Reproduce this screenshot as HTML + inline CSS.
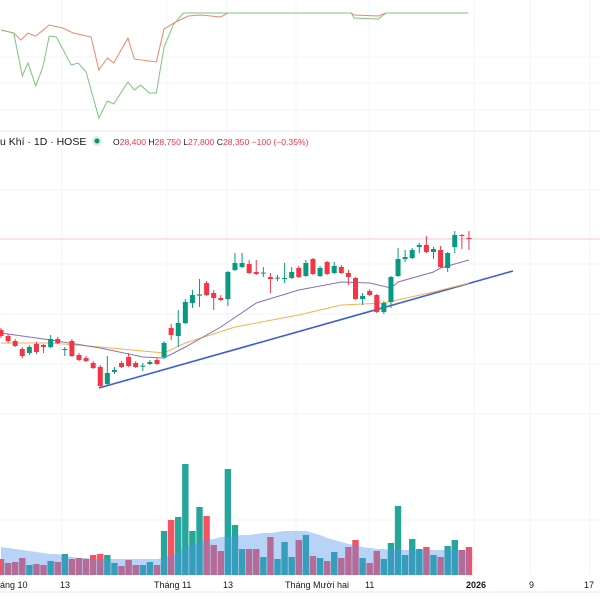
<!DOCTYPE html>
<html><head><meta charset="utf-8"><style>
html,body{margin:0;padding:0;background:#fff;width:600px;height:600px;overflow:hidden}
svg{display:block;font-family:"Liberation Sans",sans-serif}
</style></head><body>
<svg id="c" width="600" height="600" viewBox="0 0 600 600">
<g id="grid"></g>
<line x1="0" y1="131" x2="600" y2="131" stroke="#e8eaef" stroke-width="1"/>
<g id="osc"></g>
<g id="vol"></g>
<g id="price"></g>
<g>
<text x="0" y="145" font-size="10.5" fill="#131722">u Khí · 1D · HOSE</text>
<circle cx="97" cy="141" r="5" fill="#d8f0ea"/>
<circle cx="97" cy="141" r="2.5" fill="#138a72"/>
<text x="113" y="145" font-size="8.6" fill="#131722">O<tspan fill="#f23645">28,400</tspan> H<tspan fill="#f23645">28,750</tspan> L<tspan fill="#f23645">27,800</tspan> C<tspan fill="#f23645">28,350</tspan> <tspan fill="#f23645">−100 (−0.35%)</tspan></text>
</g>
<line x1="0" y1="592" x2="600" y2="592" stroke="#e8eaef"/>
<g font-size="9" fill="#131722">
<text x="0" y="588">áng 10</text>
<text x="60" y="588">13</text>
<text x="154" y="588">Tháng 11</text>
<text x="223" y="588">13</text>
<text x="285" y="588">Tháng Mười hai</text>
<text x="365" y="588">11</text>
<text x="466" y="588" font-weight="bold">2026</text>
<text x="529" y="588">9</text>
<text x="584" y="588">17</text>
</g>
</svg>
<script>
const opens=[23800,23500,23250,22850,22650,23100,23050,22950,23350,22800,23250,22550,22400,22150,21950,21100,21700,22150,22450,22150,21980,22100,22300,22450,23900,23500,24150,25150,25520,26150,25650,25400,25350,26800,26950,27100,26700,26630,26450,26380,26350,26400,26900,26500,27350,26500,27200,26650,26950,26650,26400,25350,25750,25550,24700,25200,26500,27350,27400,27950,28050,27700,27800,26900,27950,28550,28400];
const highs=[23900,23600,23350,22950,23050,23200,23100,23550,23450,22950,23350,22650,22500,22250,22050,22500,21950,22250,22650,22250,22150,22300,22400,23250,24100,24800,25350,25800,26350,26250,25800,25550,26750,27650,27650,27300,27300,26950,26650,26550,27150,26950,27000,27300,27400,27000,27250,27200,27050,26800,26450,25650,25850,25600,25250,26500,27900,27800,27900,28150,28500,27950,28000,27700,28750,28600,28750];
const lows=[23400,23150,22950,22400,22550,22600,22650,22900,23100,22500,22450,22250,22200,21850,20950,21050,21600,21900,21950,21900,21750,22050,22050,22350,23300,22950,24100,24900,24950,25500,24800,25250,25000,26750,26900,26600,26550,26450,25650,26250,26150,26350,26400,26450,26550,26450,26550,26600,26600,26050,25300,25050,25500,24650,24600,24900,26450,27200,27350,27650,27650,27350,26900,26700,27650,27850,27800];
const closes=[23500,23250,23000,22500,22950,22700,22950,23350,23150,22850,22500,22300,22250,21900,21000,21650,21800,21950,22000,21950,22020,22200,22100,23150,23550,24150,25200,25550,25580,25550,25400,25300,26700,27150,27150,26650,26600,26670,26350,26420,26400,26700,26450,27150,26600,26900,26600,27000,26650,26450,25350,25500,25550,24700,25150,26450,27350,27450,27800,28050,27700,27850,26950,27650,28550,28500,28350];
const volumes=[16,12,13,17,10,11,10,14,13,21,16,17,16,20,21,20,12,9,15,10,10,13,10,44,55,58,111,44,68,59,30,24,106,50,26,26,26,18,38,16,33,18,35,40,19,17,14,23,17,28,35,17,12,24,16,32,69,20,36,26,28,20,18,29,35,25,28];
const volMA=[28,27,26,25,24,23,22,21,21,19,18,17,17,16,16,16,16,16,16,16,16,16,16,17,20,22,28,30,33,35,36,38,38,39,40,40,41,42,42,43,44,44,44,44,42,40,37,35,33,31,30,28,27,26,26,25,25,25,25,25,25,25,25,25,25,25,25];
const maFastIdx=[0,7,14,20,23,26,31,36,42,48,52,55,56,61,62,66];
const maFast=[23650,23300,22900,22450,22400,22950,23950,25150,25800,26200,26150,25900,26200,26700,26900,27300];
const maSlowIdx=[0,7,14,23,26,33,42,48,54,61,66];
const maSlow=[23150,23150,22950,22650,23150,23950,24550,25050,25150,25700,26150];
const trendIdx=[13.8,72.2];
const trendPrice=[20900,26750];
const lastPrice=28350;
const oscIdx=[0,1.8,2.8,3.8,4.9,6.8,8.7,10.2,12.7,13.8,15,15.9,17.9,18.8,21.9,23,24.4,26.4,28.2,31,32,49.4,49.8,53.2,54.3,65.9];
const oscRed=[83.3,80.8,75,80.8,78.3,87.5,85,80.8,77.5,50,60,55.8,76.7,59.2,56.7,84.2,89.2,95,95.8,94.2,97.5,97.5,95.8,95,97.5,97.5];
const oscGreenIdx=[0,1.8,3,3.8,4.9,5.9,6.8,7.8,9.9,10.9,12,13.8,15,15.9,17.9,18.8,19.7,20.9,21.9,23,24.3,25.7,49.4,49.8,53.2,54.3,65.9];
const oscGreen=[83.3,80.8,45,55.8,36.7,52.5,78.3,77.5,54.2,55.8,48.3,10,24.2,21.7,40,33.3,37.5,30.8,30.8,69.2,87.5,97.5,97.5,93.3,92.5,97.5,97.5];

const NS='http://www.w3.org/2000/svg';
const X=i=>1+i*7.09;
const Y=p=>238-(p-28400)/50;
const VY=v=>575-v;
const OY=v=>130-v*1.2;
function mk(tag,parent,attrs){const e=document.createElementNS(NS,tag);for(const k in attrs)e.setAttribute(k,attrs[k]);parent.appendChild(e);return e;}

const grid=document.getElementById('grid');
[62,167,227,296,369,474,530,590].forEach(x=>{const l=mk('line',grid,{x1:x,y1:0,x2:x,y2:575,stroke:'#f3f4f7','stroke-width':1});

});
[57,83,110,190,264,314,364,414,520].forEach(y=>{const l=mk('line',grid,{x1:0,y1:y,x2:600,y2:y,stroke:'#f3f4f7','stroke-width':1});

});

const osc=document.getElementById('osc');
const ptsR=oscIdx.map((i,k)=>X(i)+','+OY(oscRed[k])).join(' ');
const pr=mk('polyline',osc,{points:ptsR,fill:'none',stroke:'#f4846a','stroke-width':1});


const ptsG=oscGreenIdx.map((i,k)=>X(i)+','+OY(oscGreen[k])).join(' ');
const pg=mk('polyline',osc,{points:ptsG,fill:'none',stroke:'#7fc47c','stroke-width':1});



const vol=document.getElementById('vol');
volumes.forEach((v,i)=>{const up=closes[i]>=opens[i];
const r=mk('rect',vol,{x:X(i)-3.2,y:VY(v),width:6.4,height:v,fill:up?'#26a69a':'#f7525f'});

});
let d='M'+X(0)+','+575;volMA.forEach((v,i)=>{d+=' L'+X(i)+','+VY(v);});d+=' L'+X(volMA.length-1)+',575 Z';
const va=mk('path',vol,{d:d,fill:'rgba(80,145,235,0.4)'});



const price=document.getElementById('price');
const pl=mk('line',price,{x1:0,y1:Y(lastPrice),x2:600,y2:Y(lastPrice),stroke:'#f8c9cd','stroke-width':1});


const tl=mk('line',price,{x1:X(trendIdx[0]),y1:Y(trendPrice[0]),x2:X(trendIdx[1]),y2:Y(trendPrice[1]),stroke:'#3b5fd9','stroke-width':1.6});


const ms=mk('polyline',price,{points:maSlowIdx.map((i,k)=>X(i)+','+Y(maSlow[k])).join(' '),fill:'none',stroke:'#f7b24a','stroke-width':1});


const mf=mk('polyline',price,{points:maFastIdx.map((i,k)=>X(i)+','+Y(maFast[k])).join(' '),fill:'none',stroke:'#8a6fbf','stroke-width':1});


opens.forEach((o,i)=>{const c=closes[i];const up=c>=o;const col=up?'#089981':'#f23645';
const g=mk('g',price,{});


mk('line',g,{x1:X(i),y1:Y(highs[i]),x2:X(i),y2:Y(lows[i]),stroke:col,'stroke-width':1});
const top=Math.min(Y(o),Y(c));const h=Math.max(1,Math.abs(Y(o)-Y(c)));
mk('rect',g,{x:X(i)-2.5,y:top,width:5,height:h,fill:col});});
</script>
</body></html>
